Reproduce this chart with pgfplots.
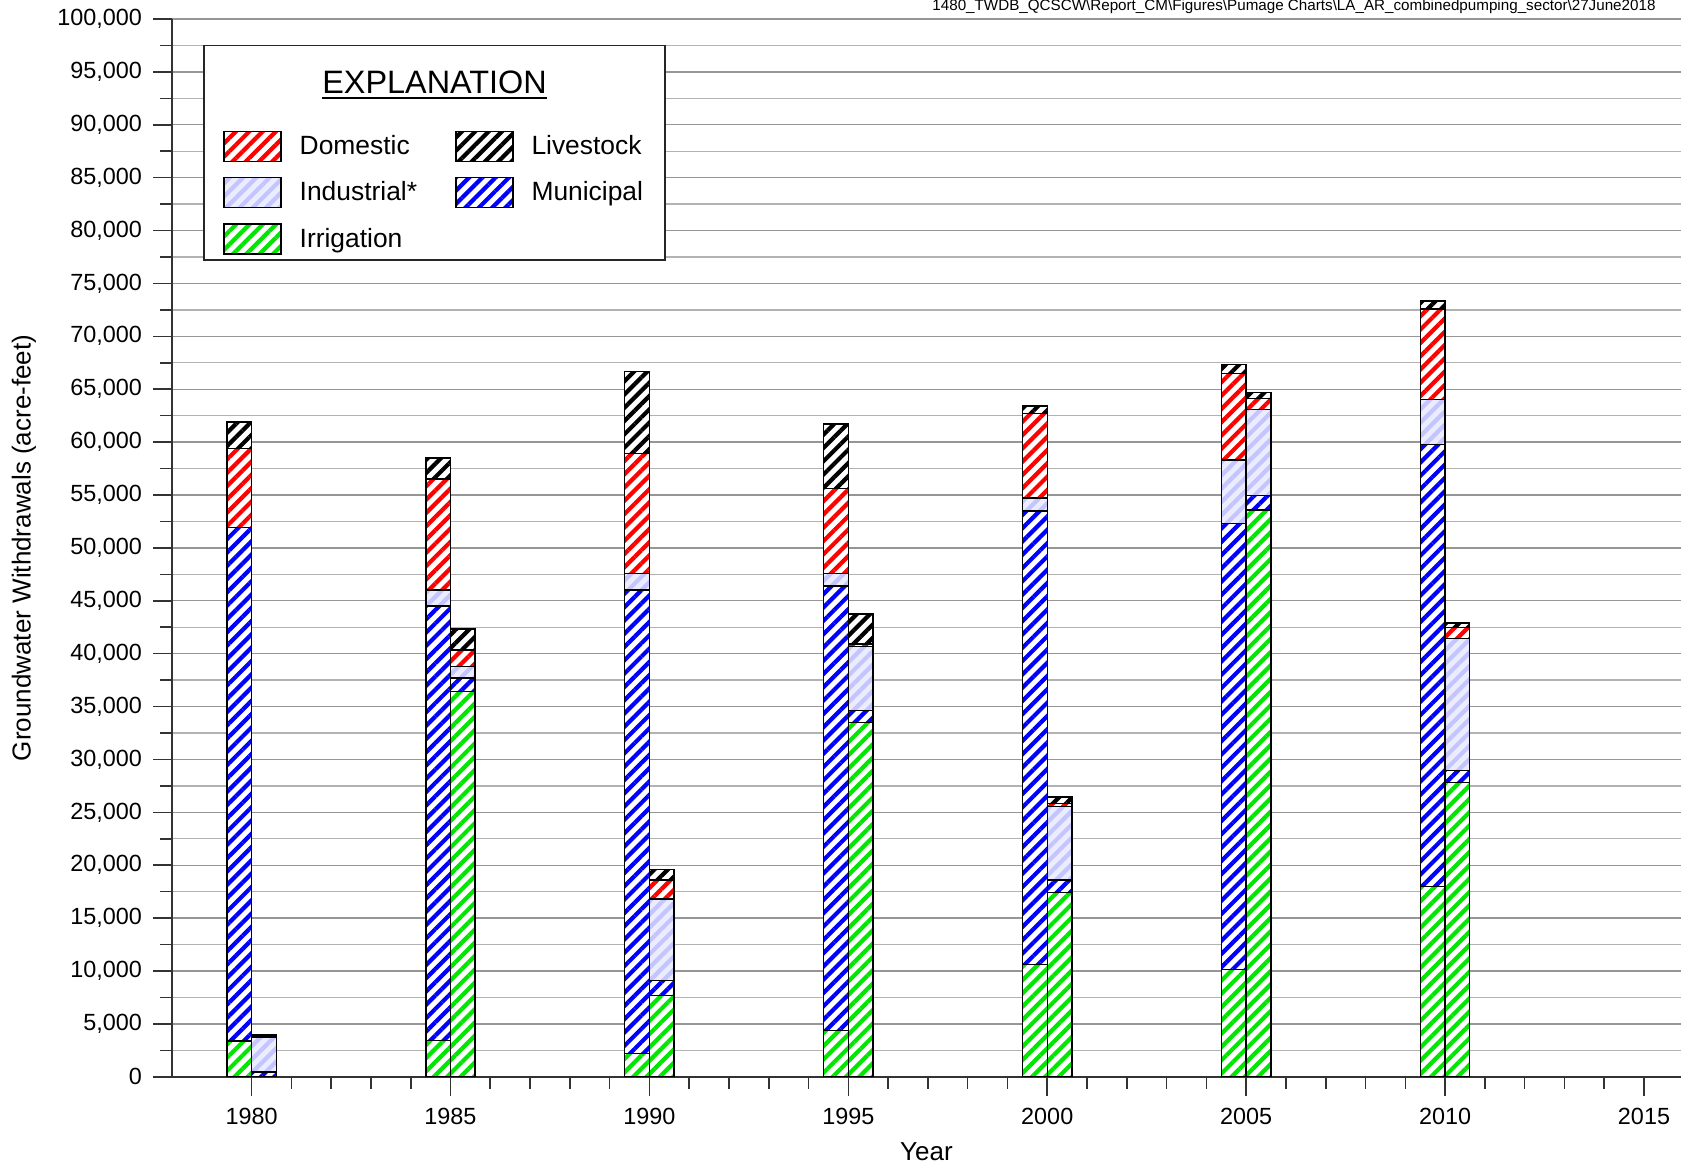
\documentclass[border=0pt]{standalone}
\usepackage{fontspec}
\setmainfont{Liberation Sans}
\usepackage{pgfplots}
\pgfplotsset{compat=1.18}
\usetikzlibrary{patterns.meta}
\definecolor{gridmaj}{RGB}{150,150,150}
\definecolor{gridmin}{RGB}{178,178,178}
\definecolor{indbg}{RGB}{236,236,255}
\definecolor{indst}{RGB}{196,196,255}
\definecolor{irrc}{RGB}{0,230,0}
\tikzset{
  barbase/.style={draw=black, line width=0.7pt},
  domsty/.style={barbase, preaction={fill=white}, pattern={Lines[angle=45,distance=4.7pt,line width=2.1pt]}, pattern color=red},
  livsty/.style={barbase, preaction={fill=white}, pattern={Lines[angle=45,distance=4.7pt,line width=2.1pt]}, pattern color=black},
  indsty/.style={barbase, preaction={fill=indbg}, pattern={Lines[angle=45,distance=4.7pt,line width=2.1pt]}, pattern color=indst},
  munsty/.style={barbase, preaction={fill=white}, pattern={Lines[angle=45,distance=4.7pt,line width=2.1pt]}, pattern color=blue},
  irrsty/.style={barbase, preaction={fill=white}, pattern={Lines[angle=45,distance=4.7pt,line width=2.1pt]}, pattern color=irrc},
}
\newcommand{\ulexp}{{\setbox0\hbox{EXPLANATION}\rlap{\rule[-2.4pt]{\wd0}{1pt}}\box0}}
\begin{document}
\begin{tikzpicture}
\begin{axis}[
  clip=false,
  scale only axis, width=754.5pt, height=528.9pt,
  xmin=1978, xmax=2015.93, ymin=0, ymax=100000,
  axis x line*=bottom, axis y line*=left,
  axis line style={line width=1pt, color=black!80},
  ybar stacked, bar width=0.62,
  xtick={1980,1985,...,2015}, minor x tick num=4,
  ytick={0,5000,...,100000}, minor y tick num=1,
  tick align=outside, major tick length=9.5pt, minor tick length=6pt,
  tick style={line width=0.8pt, color=black!80},
  ymajorgrids, yminorgrids,
  major grid style={line width=0.7pt, color=gridmaj},
  minor grid style={line width=0.7pt, color=gridmin},
  scaled y ticks=false,
  yticklabel style={/pgf/number format/fixed, /pgf/number format/1000 sep={,}, xshift=-2pt},
  xticklabel style={/pgf/number format/1000 sep={}, yshift=-2.5pt},
  /pgf/number format/assume math mode=true,
  tick label style={font=\fontsize{11.7}{13}\selectfont},
  ylabel={Groundwater Withdrawals (acre-feet)},
  xlabel={Year},
  label style={font=\fontsize{13}{15}\selectfont},
  ylabel style={at={(axis description cs:-0.0981,0.5)}, anchor=center},
  xlabel style={at={(axis description cs:0.5,0)}, anchor=center, yshift=-37.7pt},
  legend columns=2, legend cell align=left,
  legend image code/.code={\draw[#1] (0pt,-7.5pt) rectangle (28.5pt,7.5pt);},
  legend style={at={(axis cs:1979.29,89440)}, anchor=north west, draw=none, fill=none,
    inner sep=0pt, outer sep=0pt, row sep=7.5pt, nodes={inner sep=0pt},
    font=\fontsize{13.2}{15}\selectfont,
    /tikz/every odd column/.append style={column sep=9pt},
    /tikz/every even column/.append style={column sep=19pt}},
]
% legend entries (order as in the explanation box)
\addlegendimage{domsty}\addlegendentry{Domestic}
\addlegendimage{livsty}\addlegendentry{Livestock}
\addlegendimage{indsty}\addlegendentry{Industrial*}
\addlegendimage{munsty}\addlegendentry{Municipal}
\addlegendimage{irrsty}\addlegendentry{Irrigation}

% Irrigation
\addplot[irrsty] coordinates {
 (1979.69,3400) (1980.31,0)
 (1984.69,3450) (1985.31,36400)
 (1989.69,2200) (1990.31,7700)
 (1994.69,4400) (1995.31,33500)
 (1999.69,10600) (2000.31,17400)
 (2004.69,10150) (2005.31,53600)
 (2009.69,18000) (2010.31,27800)};
% Municipal
\addplot[munsty] coordinates {
 (1979.69,48500) (1980.31,450)
 (1984.69,41050) (1985.31,1300)
 (1989.69,43800) (1990.31,1400)
 (1994.69,42000) (1995.31,1150)
 (1999.69,42900) (2000.31,1200)
 (2004.69,42150) (2005.31,1350)
 (2009.69,41800) (2010.31,1150)};
% Industrial
\addplot[indsty] coordinates {
 (1979.69,0) (1980.31,3300)
 (1984.69,1500) (1985.31,1100)
 (1989.69,1600) (1990.31,7700)
 (1994.69,1200) (1995.31,6000)
 (1999.69,1200) (2000.31,6950)
 (2004.69,6000) (2005.31,8150)
 (2009.69,4200) (2010.31,12500)};
% Domestic
\addplot[domsty] coordinates {
 (1979.69,7500) (1980.31,150)
 (1984.69,10500) (1985.31,1550)
 (1989.69,11300) (1990.31,1800)
 (1994.69,8000) (1995.31,250)
 (1999.69,8000) (2000.31,300)
 (2004.69,8200) (2005.31,1050)
 (2009.69,8600) (2010.31,1000)};
% Livestock
\addplot[livsty] coordinates {
 (1979.69,2500) (1980.31,50)
 (1984.69,2000) (1985.31,2000)
 (1989.69,7800) (1990.31,1000)
 (1994.69,6100) (1995.31,2850)
 (1999.69,700) (2000.31,600)
 (2004.69,850) (2005.31,550)
 (2009.69,750) (2010.31,450)};

\node[draw=black!85, line width=0.8pt, fill=white, inner sep=0pt, outer sep=0pt,
      minimum width=230.35pt, minimum height=107.3pt, anchor=north west,
      label={[anchor=center, yshift=-19.6pt, inner sep=0pt, font=\fontsize{16.2}{18}\selectfont]north:\ulexp}]
      at (axis cs:1978.81,97480) {};
\node[anchor=base east, font=\fontsize{7.6}{9}\selectfont, inner sep=0pt] at (rel axis cs:1,1) [xshift=-12.5pt, yshift=4.2pt]
 {1480\_TWDB\_QCSCW\textbackslash Report\_CM\textbackslash Figures\textbackslash Pumage Charts\textbackslash LA\_AR\_combinedpumping\_sector\textbackslash 27June2018};
\coordinate (bbsw) at (rel axis cs:0,0);
\coordinate (bbne) at (rel axis cs:1,1);
\end{axis}
\pgfresetboundingbox
\path[use as bounding box] ([shift={(-86pt,-44.15pt)}]bbsw) rectangle ([shift={(0pt,9.5pt)}]bbne);
\end{tikzpicture}
\end{document}
